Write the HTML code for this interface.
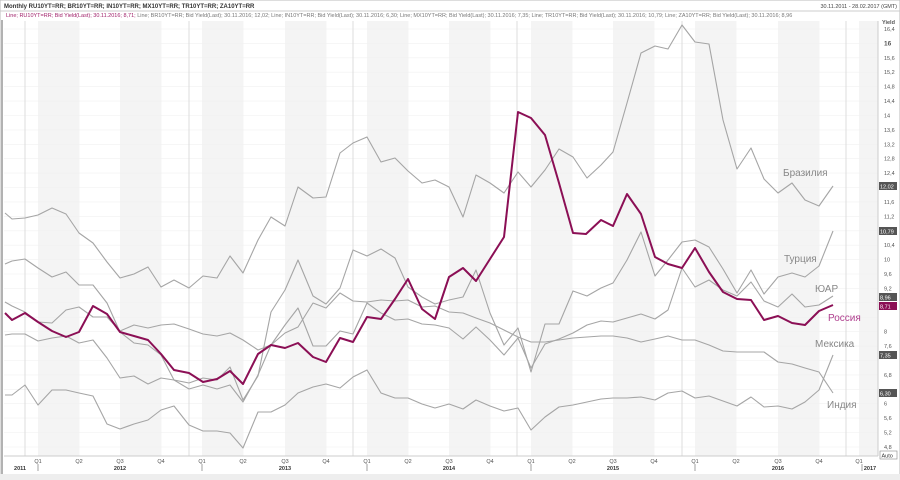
<!DOCTYPE html>
<html><head><meta charset="utf-8"><style>
html,body{margin:0;padding:0;background:#fff;}
svg{display:block;font-family:"Liberation Sans",sans-serif;}
</style></head><body>
<svg width="900" height="480" viewBox="0 0 900 480" xmlns="http://www.w3.org/2000/svg">
<rect width="900" height="480" fill="#fff"/>
<rect x="0" y="0" width="900" height="480" fill="none" stroke="#bbb" stroke-width="1"/>
<line x1="2" y1="20" x2="2" y2="476" stroke="#999" stroke-width="1.5"/>
<rect x="0" y="474" width="900" height="6" fill="#eee"/>
<!-- bands -->
<g fill="#f4f4f4">
<rect x="38" y="21" width="41.5" height="435"/><rect x="120" y="21" width="41.5" height="435"/>
<rect x="202" y="21" width="41.5" height="435"/><rect x="285" y="21" width="41.5" height="435"/>
<rect x="367" y="21" width="41.5" height="435"/><rect x="449" y="21" width="41.5" height="435"/>
<rect x="531" y="21" width="41.5" height="435"/><rect x="613" y="21" width="41.5" height="435"/>
<rect x="695" y="21" width="41.5" height="435"/><rect x="778" y="21" width="41.5" height="435"/>
<rect x="859" y="21" width="19" height="435"/>
</g>
<g stroke="#f0f0f0" stroke-width="0.6">
<line x1="4" x2="878" y1="29" y2="29"/><line x1="4" x2="878" y1="43.4" y2="43.4"/><line x1="4" x2="878" y1="57.8" y2="57.8"/><line x1="4" x2="878" y1="72.2" y2="72.2"/><line x1="4" x2="878" y1="86.6" y2="86.6"/><line x1="4" x2="878" y1="101.1" y2="101.1"/><line x1="4" x2="878" y1="115.5" y2="115.5"/><line x1="4" x2="878" y1="129.9" y2="129.9"/><line x1="4" x2="878" y1="144.3" y2="144.3"/><line x1="4" x2="878" y1="158.7" y2="158.7"/><line x1="4" x2="878" y1="173.1" y2="173.1"/><line x1="4" x2="878" y1="187.5" y2="187.5"/><line x1="4" x2="878" y1="201.9" y2="201.9"/><line x1="4" x2="878" y1="216.3" y2="216.3"/><line x1="4" x2="878" y1="230.8" y2="230.8"/><line x1="4" x2="878" y1="245.2" y2="245.2"/><line x1="4" x2="878" y1="259.6" y2="259.6"/><line x1="4" x2="878" y1="274" y2="274"/><line x1="4" x2="878" y1="288.4" y2="288.4"/><line x1="4" x2="878" y1="302.8" y2="302.8"/><line x1="4" x2="878" y1="317.2" y2="317.2"/><line x1="4" x2="878" y1="331.6" y2="331.6"/><line x1="4" x2="878" y1="346.1" y2="346.1"/><line x1="4" x2="878" y1="360.5" y2="360.5"/><line x1="4" x2="878" y1="374.9" y2="374.9"/><line x1="4" x2="878" y1="389.3" y2="389.3"/><line x1="4" x2="878" y1="403.7" y2="403.7"/><line x1="4" x2="878" y1="418.1" y2="418.1"/><line x1="4" x2="878" y1="432.5" y2="432.5"/><line x1="4" x2="878" y1="447" y2="447"/>
</g>
<g stroke="#ddd" stroke-width="1">
<line x1="25" x2="25" y1="21" y2="456"/><line x1="189" x2="189" y1="21" y2="456"/><line x1="353" x2="353" y1="21" y2="456"/><line x1="517" x2="517" y1="21" y2="456"/><line x1="682" x2="682" y1="21" y2="456"/><line x1="846" x2="846" y1="21" y2="456"/>
</g>
<line x1="878" y1="21" x2="878" y2="456" stroke="#ccc"/>
<line x1="4" y1="456" x2="878" y2="456" stroke="#ccc"/>
<!-- header -->
<text x="4" y="8" font-size="6" font-weight="bold" fill="#333">Monthly RU10YT=RR; BR10YT=RR; IN10YT=RR; MX10YT=RR; TR10YT=RR; ZA10YT=RR</text>
<text x="897" y="8" font-size="5.5" fill="#444" text-anchor="end">30.11.2011 - 28.02.2017 (GMT)</text>
<line x1="0" y1="11" x2="900" y2="11" stroke="#ccc"/>
<text x="6" y="17" font-size="5.5" fill="#777"><tspan fill="#a0206a">Line; RU10YT=RR; Bid Yield(Last); 30.11.2016; 8,71;</tspan> Line; BR10YT=RR; Bid Yield(Last); 30.11.2016; 12,02; Line; IN10YT=RR; Bid Yield(Last); 30.11.2016; 6,30; Line; MX10YT=RR; Bid Yield(Last); 30.11.2016; 7,35; Line; TR10YT=RR; Bid Yield(Last); 30.11.2016; 10,79; Line; ZA10YT=RR; Bid Yield(Last); 30.11.2016; 8,96</text>
<!-- series -->
<g fill="none" stroke="#a5a5a5" stroke-width="1.1" stroke-linejoin="round">
<polyline points="5,213 12,219 25,218 38,215 52,208 66,214 79,233 93,243 107,262 120,278 134,274 148,267 161,287 174,280 189,288 203,276 217,278 230,256 243,273 258,240 271,217 285,226 298,187 313,198 326,197 340,153 353,143 367,137 381,162 395,158 408,171 422,183 435,180 449,187 463,217 476,175 490,183 504,193 518,172 531,187 545,170 559,149 573,157 587,178 601,165 613,152 627,103 641,53 655,46 668,49 682,25 695,42 709,44 723,120 737,169 751,148 764,179 778,193 792,183 805,200 819,206 833,186"/>
<polyline points="5,264 12,261 25,259 38,268 52,277 66,272 79,285 93,285 107,303 120,332 134,343 148,345 161,355 174,380 189,383 203,378 217,380 230,367 243,400 258,376 271,312 285,290 298,260 313,296 326,304 340,288 353,250 367,256 381,249 395,258 408,287 422,297 435,304 449,300 463,297 476,270 490,313 504,345 518,328 531,372 545,324 559,324 573,291 587,296 601,288 613,283 627,260 641,232 655,276 668,260 682,242 695,240 709,247 723,269 737,293 751,270 764,294 778,277 792,273 805,277 819,266 833,231"/>
<polyline points="5,302 12,306 25,312 38,322 52,323 66,310 79,307 93,317 107,317 120,331 134,325 148,328 161,325 174,324 189,329 203,334 217,336 230,333 243,340 258,350 271,345 285,333 298,327 313,303 326,308 340,293 353,301 367,302 381,300 395,301 408,300 422,307 435,306 449,312 463,313 476,318 490,323 504,330 518,337 531,342 545,342 559,340 573,338 587,337 601,336 613,336 627,338 641,342 655,339 668,336 682,340 695,340 709,345 723,351 737,352 751,352 764,352 778,362 792,364 805,368 819,372 833,393"/>
<polyline points="5,335 12,334 25,334 38,341 52,338 66,336 79,343 93,340 107,358 120,378 134,376 148,384 161,378 174,380 189,389 203,385 217,389 230,385 243,402 258,375 271,345 285,325 298,308 313,346 326,346 340,331 353,334 367,303 381,313 395,320 408,319 422,324 435,325 449,328 463,339 476,327 490,340 504,355 518,338 531,368 545,344 559,339 573,333 587,325 601,321 613,322 627,318 641,314 655,319 668,310 682,268 695,287 709,280 723,290 737,296 751,282 764,301 778,307 792,294 805,307 819,305 833,296"/>
<polyline points="5,395 12,395 25,385 38,405 52,390 66,390 79,393 93,396 107,424 120,429 134,424 148,420 161,410 174,406 189,425 203,431 217,431 230,433 243,448 258,412 271,412 285,405 298,393 313,387 326,384 340,388 353,377 367,370 381,393 395,398 408,398 422,404 435,408 449,404 463,409 476,400 490,406 504,411 518,408 531,430 545,417 559,407 573,405 587,402 601,399 613,398 627,398 641,397 655,400 668,393 682,391 695,398 709,396 723,401 737,406 751,397 764,407 778,406 792,409 805,402 819,390 833,355"/>
</g>
<polyline fill="none" stroke="#8b0f55" stroke-width="2" stroke-linejoin="round" points="5,313 12,320 25,313 38,322 52,331 66,337 79,332 93,306 107,314 120,332 134,336 148,340 161,354 174,370 189,373 203,382 217,379 230,371 243,384 258,354 271,345 285,348 298,343 313,357 326,362 340,338 353,342 367,317 381,319 395,299 408,279 422,309 435,319 449,277 463,268 476,281 490,259 504,237 518,112 531,118 545,135 559,183 573,233 586,234 601,220 613,226 627,194 641,214 655,257 668,264 682,268 695,248 709,272 723,292 737,299 751,300 764,320 778,316 792,323 805,325 819,311 833,305"/>
<!-- series labels -->
<g font-size="10" fill="#888">
<text x="783" y="176">Бразилия</text>
<text x="784" y="262">Турция</text>
<text x="815" y="292">ЮАР</text>
<text x="828" y="321" fill="#b0408f">Россия</text>
<text x="815" y="347">Мексика</text>
<text x="827" y="408">Индия</text>
</g>
<!-- right axis -->
<g font-size="5.5" fill="#555">
<text x="884" y="31">16,4</text><text x="884" y="45.4" font-weight="bold" font-size="6.5">16</text><text x="884" y="59.8">15,6</text><text x="884" y="74.2">15,2</text><text x="884" y="88.6">14,8</text><text x="884" y="103.1">14,4</text><text x="884" y="117.5">14</text><text x="884" y="131.9">13,6</text><text x="884" y="146.3">13,2</text><text x="884" y="160.7">12,8</text><text x="884" y="175.1">12,4</text><text x="884" y="203.9">11,6</text><text x="884" y="218.3">11,2</text><text x="884" y="247.2">10,4</text><text x="884" y="261.6">10</text><text x="884" y="276">9,6</text><text x="884" y="290.4">9,2</text><text x="884" y="333.6">8</text><text x="884" y="348.1">7,6</text><text x="884" y="376.9">6,8</text><text x="884" y="405.7">6</text><text x="884" y="420.1">5,6</text><text x="884" y="434.5">5,2</text><text x="884" y="449">4,8</text>
<text x="882" y="24" font-weight="bold">Yield</text>
</g>
<g font-size="5.5" fill="#fff">
<rect x="879" y="182" width="18" height="8" fill="#555"/><text x="880" y="188.5">12,02</text>
<rect x="879" y="227" width="18" height="8" fill="#555"/><text x="880" y="233.5">10,79</text>
<rect x="879" y="293" width="18" height="8" fill="#555"/><text x="880" y="299.5">8,96</text>
<rect x="879" y="302" width="18" height="8" fill="#8b0f55"/><text x="880" y="308.5">8,71</text>
<rect x="879" y="351" width="18" height="8" fill="#555"/><text x="880" y="357.5">7,35</text>
<rect x="879" y="389" width="18" height="8" fill="#555"/><text x="880" y="395.5">6,30</text>
</g>
<rect x="880" y="451" width="17" height="8" fill="#fff" stroke="#888" stroke-width="0.6"/>
<text x="881.5" y="457.5" font-size="5.5" fill="#333">Auto</text>
<!-- x axis -->
<g font-size="5.5" fill="#555" text-anchor="middle">
<text x="38" y="463">Q1</text><text x="79" y="463">Q2</text><text x="120" y="463">Q3</text><text x="161" y="463">Q4</text>
<text x="202" y="463">Q1</text><text x="243" y="463">Q2</text><text x="285" y="463">Q3</text><text x="326" y="463">Q4</text>
<text x="367" y="463">Q1</text><text x="408" y="463">Q2</text><text x="449" y="463">Q3</text><text x="490" y="463">Q4</text>
<text x="531" y="463">Q1</text><text x="572" y="463">Q2</text><text x="613" y="463">Q3</text><text x="654" y="463">Q4</text>
<text x="695" y="463">Q1</text><text x="736" y="463">Q2</text><text x="778" y="463">Q3</text><text x="819" y="463">Q4</text>
<text x="859" y="463">Q1</text>
</g>
<g font-size="5.5" fill="#333" font-weight="bold" text-anchor="middle">
<text x="20" y="470">2011</text><text x="120" y="470">2012</text><text x="285" y="470">2013</text><text x="449" y="470">2014</text><text x="613" y="470">2015</text><text x="778" y="470">2016</text><text x="870" y="470">2017</text>
</g>
<g stroke="#777" stroke-width="0.7">
<line x1="38" y1="464" x2="38" y2="471"/><line x1="202" y1="464" x2="202" y2="471"/><line x1="367" y1="464" x2="367" y2="471"/><line x1="531" y1="464" x2="531" y2="471"/><line x1="695" y1="464" x2="695" y2="471"/><line x1="862" y1="464" x2="862" y2="471"/>
</g>
</svg>
</body></html>
